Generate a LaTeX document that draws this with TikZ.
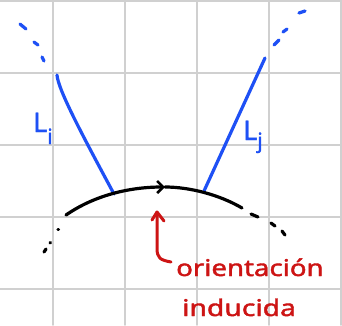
\documentclass[tikz,border=0pt]{standalone}
\usepackage{fontspec}
\setmainfont{Noto Sans}
\newfontfamily\handfont{Noto Sans}[FakeBold=1.6]
\usetikzlibrary{arrows.meta}
\definecolor{pen}{RGB}{30,80,245}
\definecolor{redpen}{RGB}{205,20,20}
\definecolor{gridc}{RGB}{208,208,208}
\begin{document}
\begin{tikzpicture}[x=1pt,y=-1pt, line cap=round, line join=round,
  gridline/.style={draw=gridc,line width=1.6pt},
  blueline/.style={draw=pen,line width=3.2pt},
  blackline/.style={draw=black,line width=3.2pt},
  redline/.style={draw=redpen,line width=3pt},
  lbl/.style={text=pen, inner sep=0pt, anchor=base west, font=\handfont\fontsize{27}{29}\selectfont},
  redtxt/.style={text=redpen, inner sep=0pt, anchor=base west, font=\handfont\fontsize{23}{25}\selectfont}]
\useasboundingbox (0,0) rectangle (342,325);
\fill[white] (0,0) rectangle (342,325);
% grid
\foreach \gx in {53,125,197,269,341} \draw[gridline] (\gx,0) -- (\gx,325);
\foreach \gy in {1,73,145,217,289} \draw[gridline] (0,\gy) -- (342,\gy);
% coordinates
\coordinate (Lit) at (57,75);
\coordinate (Lib) at (114,194);
\coordinate (Ljt) at (265,58);
\coordinate (Ljb) at (204,191);
\coordinate (As) at (66,215);
\coordinate (Am) at (165,187);
\coordinate (Ae) at (242,208);
% left line Li
\draw[blueline] (Lit) .. controls (58,90) and (85,140) .. (Lib);
\draw[blueline] (20,24) -- (26,29);
\draw[blueline] (34,42) -- (38,45);
\draw[blueline] (42,57) -- (44,61);
% right line Lj
\draw[blueline] (Ljt) -- (Ljb);
\draw[blueline] (299,13) -- (305,11);
\draw[blueline] (283,32) -- (287,29);
\draw[blueline] (274,45) -- (279,40);
% arc
\draw[blackline,-{Straight Barb[length=6pt,width=12pt,line width=2.6pt]}] (As) .. controls (95,195) and (130,187) .. (Am);
\draw[blackline] (Am) .. controls (190,187) and (220,195) .. (Ae);
\draw[blackline] (58,229.5) -- (58.5,229.5);
\draw[blackline] (50,243) -- (50.5,242.5);
\draw[blackline] (44,252) -- (46,249);
\draw[blackline] (251,214) -- (258,217);
\draw[blackline] (271,223) -- (275,226);
\draw[blackline] (282,231) -- (285,235);
% labels
\node[lbl] (li) at (33,132) {L\raisebox{-12pt}{\fontsize{21}{21}\selectfont i}};
\node[lbl] (lj) at (243,140) {L\raisebox{-8pt}{\fontsize{21}{21}\selectfont j}};
% red annotation
\coordinate (rt) at (157,212);
\coordinate (rb) at (171,262);
\draw[redline] (rb) .. controls (160,260) and (157,258) .. (157,248) -- (rt);
\draw[redline] (152,220) -- (rt) -- (164,221);
\node[redtxt] (t1) at (176,276) {\scalebox{1.2}[1]{orientación}};
\node[redtxt] (t2) at (182,316) {\scalebox{1.23}[1]{inducida}};
\end{tikzpicture}
\end{document}
